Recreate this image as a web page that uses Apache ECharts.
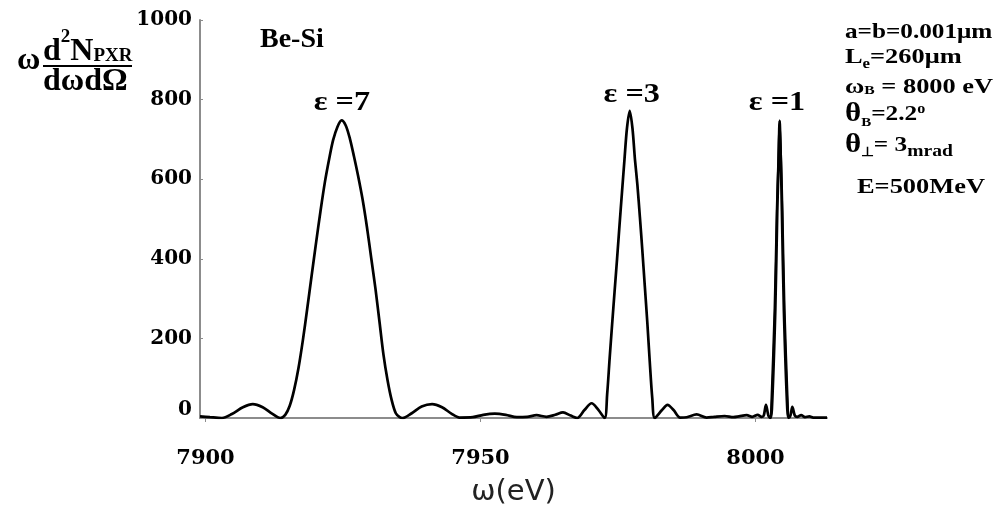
<!DOCTYPE html>
<html><head><meta charset="utf-8">
<script src="https://cdn.jsdelivr.net/npm/echarts@6/dist/echarts.min.js"></script>
<style>html,body{margin:0;padding:0;background:#fff}#c{width:998px;height:512px}</style>
</head><body><div id="c"></div>
<script>
// ---- data ----
const omega = [
  7899.0,7900.8,7903.0,7904.8,7906.8,7908.6,7910.4,7912.1,7913.6,
  7914.5,7915.3,7916.1,7916.9,7917.7,7918.5,7919.3,7920.1,7920.9,7921.7,7922.5,7923.2,7924.0,7924.74,
  7925.5,7926.25,7927.0,7927.75,7928.55,7929.35,7930.15,7930.9,7931.65,7932.35,7933.1,7933.85,7934.6,7935.3,7935.8,
  7937.5,7939.3,7941.2,7943.0,7944.7,7946.2,7948.6,7950.5,7952.6,7954.6,7956.6,7958.5,7960.2,7962.0,7963.6,7965.0,7966.4,7967.6,
  7968.9,7970.2,7971.4,
  7972.58,7973.03,7973.48,7973.93,7974.38,7974.83,7975.28,7975.73,7976.18,7976.63,7977.13,
  7977.63,7978.08,7978.53,7978.98,7979.43,7979.88,7980.33,7980.78,7981.23,7981.68,
  7983.0,7984.0,7985.1,7986.3,7987.5,7989.3,7991.1,7992.5,7994.4,7996.0,7997.0,7998.4,7999.4,8000.4,8001.1,
  8001.5,8001.9,8002.35,8002.7,
  8002.98,8003.6,8003.96,8004.2,8004.38,8004.61,8004.8,8005.16,8005.78,8006.05,
  8006.35,8006.7,8007.15,8007.6,8008.3,8009.0,8009.8,8010.5,8013.0];
const intensity = [
  4,2,0,10,27,35,27,11,0,
  8,30,70,125,195,275,358,440,519,592,652,698,732,748,
  735,702,657,608,550,480,400,325,240,160,95,45,12,2,0,
  12,29,35,27,11,1,2,8,11,8,2,3,7,3,8,14,6,0,
  20,37,21,
  0,60,150,235,318,400,485,568,650,728,772,
  728,650,585,505,420,330,240,140,50,0,
  20,33,20,1,2,9,1,3,5,2,4,7,3,8,3,
  6,33,6,0,
  22,271,520,644,746,644,520,271,22,0,
  6,28,6,3,7,2,4,1,1];
// second (doubled) trace visible on the narrow eps=1 peak
const omegaPeak1b = [8002.8,8003.45,8003.85,8004.12,8004.38,8004.68,8004.92,8005.3,8005.95];
const intensityPeak1b = [10,271,520,644,748,644,520,271,10];
const xTickValues = [7900, 7950, 8000];
const peakLabels = ['ε =7', 'ε =3', 'ε =1'];
const peakLabelX = [7924.8, 7977.5, 8003.9];
const peakLabelY = [793, 813, 793];

const serif = 'Liberation Serif';
const tickFont = 'DejaVu Serif';
const chart = echarts.init(document.getElementById('c'), null, {renderer: 'canvas'});

const mainData = omega.map((x, i) => [x, intensity[i]]);
const peakData = omegaPeak1b.map((x, i) => [x, intensityPeak1b[i]]);

function txt(x, y, text, size, extra) {
  return Object.assign({
    type: 'text', x: x, y: y, silent: true,
    style: Object.assign({
      text: text, fontFamily: serif, fontWeight: 'bold', fontSize: size, fill: '#000',
      align: 'left', textAlign: 'left', verticalAlign: 'middle', textVerticalAlign: 'middle'
    }, extra && extra.style || {})
  }, extra && extra.el || {});
}
function tok(size, pad, family) {
  return {fontFamily: family || serif, fontWeight: 'bold', fontSize: size, fill: '#000', padding: pad, verticalAlign: 'middle'};
}

const staticGraphics = [
  // y-axis title
  txt(17, 60.8, 'ω', 32),
  txt(43, 51.5, 'd{sup|2}N{sub|PXR}', 32, {style: {rich: {sup: tok(19, [0,0,28,0]), sub: tok(19, [9,0,0,0])}}}),
  {type: 'line', silent: true, shape: {x1: 43, y1: 66, x2: 132, y2: 66}, style: {stroke: '#000', lineWidth: 2}},
  txt(43, 81.8, 'dωdΩ', 32),
  // Be-Si
  txt(260, 40.2, 'Be-Si', 28),
  // right-hand parameters
  txt(845, 32.6, 'a=b=0.001μm', 21, {el: {scaleX: 1.2}}),
  txt(845, 57.3, 'L{s|e}=260μm', 22, {el: {scaleX: 1.2}, style: {rich: {s: tok(14, [15,0,0,0])}}}),
  txt(845, 87.3, 'ω{s|B} = 8000 eV', 22, {el: {scaleX: 1.2}, style: {rich: {s: tok(13, [6,0,0,0])}}}),
  txt(845, 114.3, '{t|θ}{s|B}=2.2{p|o}', 22, {el: {scaleX: 1.15}, style: {rich: {t: tok(27, [0,0,0,0]), s: tok(13, [16,0,0,0]), p: tok(14, [0,0,9,0])}}}),
  txt(845, 145.3, '{t|θ}{s|⊥}= 3{m|mrad}', 22, {el: {scaleX: 1.15}, style: {rich: {t: tok(27, [0,0,0,0]), s: tok(13, [14,0,0,0]), m: tok(17, [13,0,0,0])}}}),
  txt(857, 187.3, 'E=500MeV', 22, {el: {scaleX: 1.2}})
];

chart.setOption({
  animation: false,
  backgroundColor: '#fff',
  grid: {left: 200, top: 20, width: 627, height: 402, containLabel: false},
  xAxis: {
    type: 'value', min: 7899, max: 8013,
    axisLine: {show: true, onZero: false, lineStyle: {color: '#8c8c8c', width: 2}},
    axisTick: {show: true, customValues: xTickValues, length: 4, lineStyle: {color: '#8c8c8c', width: 1}},
    axisLabel: {customValues: xTickValues, formatter: v => String(v), margin: 30, fontFamily: tickFont, fontWeight: 'bold', fontSize: 21, color: '#000'},
    splitLine: {show: false},
    name: 'ω(eV)', nameLocation: 'middle', nameGap: 60,
    nameTextStyle: {fontFamily: 'DejaVu Sans', fontSize: 29, color: '#222'}
  },
  yAxis: {
    type: 'value', min: 0, max: 1000, interval: 200,
    axisLine: {show: true, lineStyle: {color: '#8c8c8c', width: 2}},
    axisTick: {show: true, inside: true, length: 3, lineStyle: {color: '#8c8c8c', width: 1}},
    axisLabel: {
      margin: 8, fontFamily: tickFont, fontWeight: 'bold', fontSize: 20, color: '#000',
      formatter: v => v === 0 ? '{z|0}' : String(v),
      rich: {z: {fontFamily: tickFont, fontWeight: 'bold', fontSize: 20, color: '#000', padding: [0,0,16,0]}}
    },
    splitLine: {show: false}
  },
  series: [
    {type: 'line', data: mainData, showSymbol: false, smooth: 0.3,
     lineStyle: {color: '#000', width: 2.7}, z: 3},
    {type: 'line', data: peakData, showSymbol: false, smooth: 0.3,
     lineStyle: {color: '#000', width: 2}, z: 3}
  ],
  graphic: {elements: staticGraphics}
});

const peakGraphics = peakLabels.map((t, i) => {
  const p = chart.convertToPixel({gridIndex: 0}, [peakLabelX[i], peakLabelY[i]]);
  return {type: 'text', x: p[0], y: p[1], scaleX: 1.15, silent: true,
    style: {text: t, fontFamily: serif, fontWeight: 'bold', fontSize: 28, fill: '#000',
      align: 'center', textAlign: 'center', verticalAlign: 'middle', textVerticalAlign: 'middle'}};
});
chart.setOption({graphic: {elements: staticGraphics.concat(peakGraphics)}});
</script>
</body></html>
